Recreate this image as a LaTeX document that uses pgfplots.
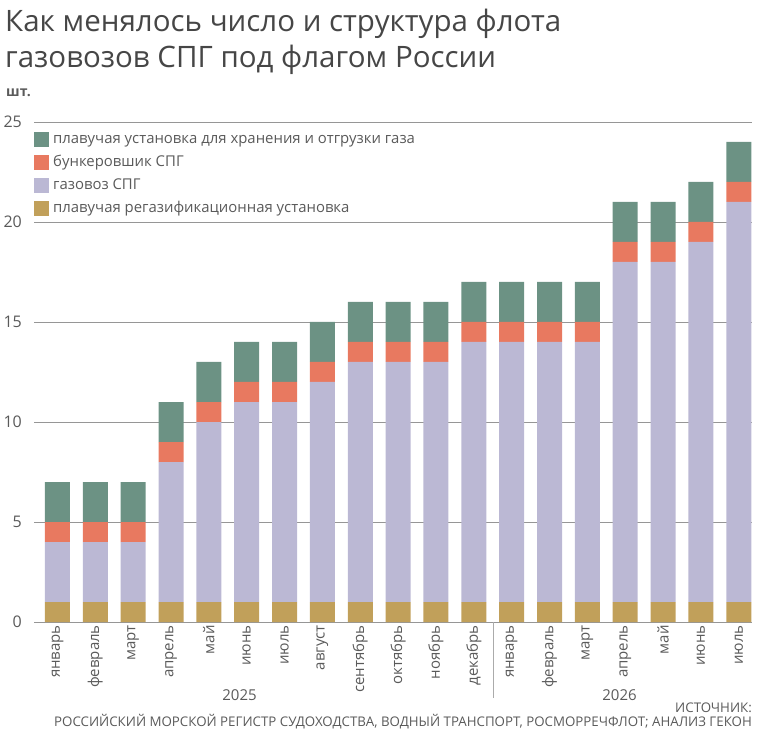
\documentclass[border=0pt]{standalone}
\usepackage{pgfplots}
\usepackage{pgfplotstable}
\pgfplotsset{compat=1.18}
\usepackage{fontspec}
\setmainfont{Open Sans}
\definecolor{cTeal}{RGB}{108,146,132}
\definecolor{cBunk}{RGB}{232,121,96}
\definecolor{cLav}{RGB}{187,184,212}
\definecolor{cGold}{RGB}{193,160,90}
\definecolor{cGrid}{RGB}{150,150,150}
\definecolor{cText}{RGB}{90,90,90}
\definecolor{cTitle}{RGB}{70,70,70}

\pgfplotstableread{
i regas carrier bunker storage
0  1 3  1 2
1  1 3  1 2
2  1 3  1 2
3  1 7  1 2
4  1 9  1 2
5  1 10 1 2
6  1 10 1 2
7  1 11 1 2
8  1 12 1 2
9  1 12 1 2
10 1 12 1 2
11 1 13 1 2
12 1 13 1 2
13 1 13 1 2
14 1 13 1 2
15 1 17 1 2
16 1 17 1 2
17 1 18 1 2
18 1 20 1 2
}\data

\begin{document}
\begin{tikzpicture}[x=1pt,y=1pt]
\useasboundingbox (0,0) rectangle (759,731);
\begin{axis}[
  at={(34pt,109pt)}, anchor=south west, scale only axis,
  width=718pt, height=500pt,
  ybar stacked, bar width=25pt,
  xmin=-0.62, xmax=18.35, ymin=0, ymax=25,
  ytick={0,5,...,25}, xtick={0,...,18},
  xticklabels={январь,февраль,март,апрель,май,июнь,июль,август,сентябрь,октябрь,ноябрь,декабрь,январь,февраль,март,апрель,май,июнь,июль},
  axis lines*=left,
  x axis line style={cGrid, line width=0.7pt},
  y axis line style={draw=none},
  tick style={draw=none},
  ymajorgrids, major grid style={cGrid, line width=0.6pt},
  /pgf/number format/assume math mode=true,
  yticklabel style={font=\fontsize{16}{16}\selectfont, text=cText, anchor=east, inner sep=0pt, xshift=-12pt},
  xticklabel style={font=\fontsize{15}{15}\selectfont, text=cText, rotate=90, anchor=east, inner xsep=3pt, inner ysep=0pt},
  legend image code/.code={\fill[#1] (0pt,-7.5pt) rectangle (15pt,7.5pt);},
  reverse legend, legend cell align=left,
  legend style={at={(rel axis cs:0,0.98)}, anchor=north west, draw=none, fill=none,
    inner sep=0pt, row sep=8pt, font=\fontsize{14.9}{14.9}\selectfont, text=cText,
    nodes={inner sep=0pt, text height=11pt, text depth=3pt},
    /tikz/every odd column/.style={column sep=4pt}},
]
\addplot[fill=cGold, draw=none] table[x=i, y=regas]{\data};
\addplot[fill=cLav, draw=none] table[x=i, y=carrier]{\data};
\addplot[fill=cBunk, draw=none] table[x=i, y=bunker]{\data};
\addplot[fill=cTeal, draw=none] table[x=i, y=storage]{\data};
\legend{плавучая регазификационная установка, газовоз СПГ, бункеровшик СПГ, плавучая установка для хранения и отгрузки газа}
\end{axis}
\node[anchor=base west, inner sep=0pt, font=\fontsize{29.5}{29.5}\selectfont, text=cTitle] at (5,699) {Как менялось число и структура флота};
\node[anchor=base west, inner sep=0pt, font=\fontsize{29.5}{29.5}\selectfont, text=cTitle] at (5,663) {газовозов СПГ под флагом России};
\node[anchor=base west, inner sep=0pt, font=\bfseries\fontsize{14}{14}\selectfont, text=cText] at (6,634) {шт.};
\node[inner sep=0pt, font=\fontsize{15}{15}\selectfont, text=cText] at (239.5,36) {2025};
\node[inner sep=0pt, font=\fontsize{15}{15}\selectfont, text=cText] at (619.5,36) {2026};
\draw[cGrid!80, line width=0.6pt] (493,109) -- (493,33);
\node[anchor=base east, inner sep=0pt, font=\fontsize{13.3}{13.3}\selectfont, text=cText] at (752,18.5) {ИСТОЧНИК:};
\node[anchor=base east, inner sep=0pt, font=\fontsize{13.3}{13.3}\selectfont, text=cText] at (752,5) {РОССИЙСКИЙ МОРСКОЙ РЕГИСТР СУДОХОДСТВА, ВОДНЫЙ ТРАНСПОРТ, РОСМОРРЕЧФЛОТ; АНАЛИЗ ГЕКОН};
\end{tikzpicture}
\end{document}
